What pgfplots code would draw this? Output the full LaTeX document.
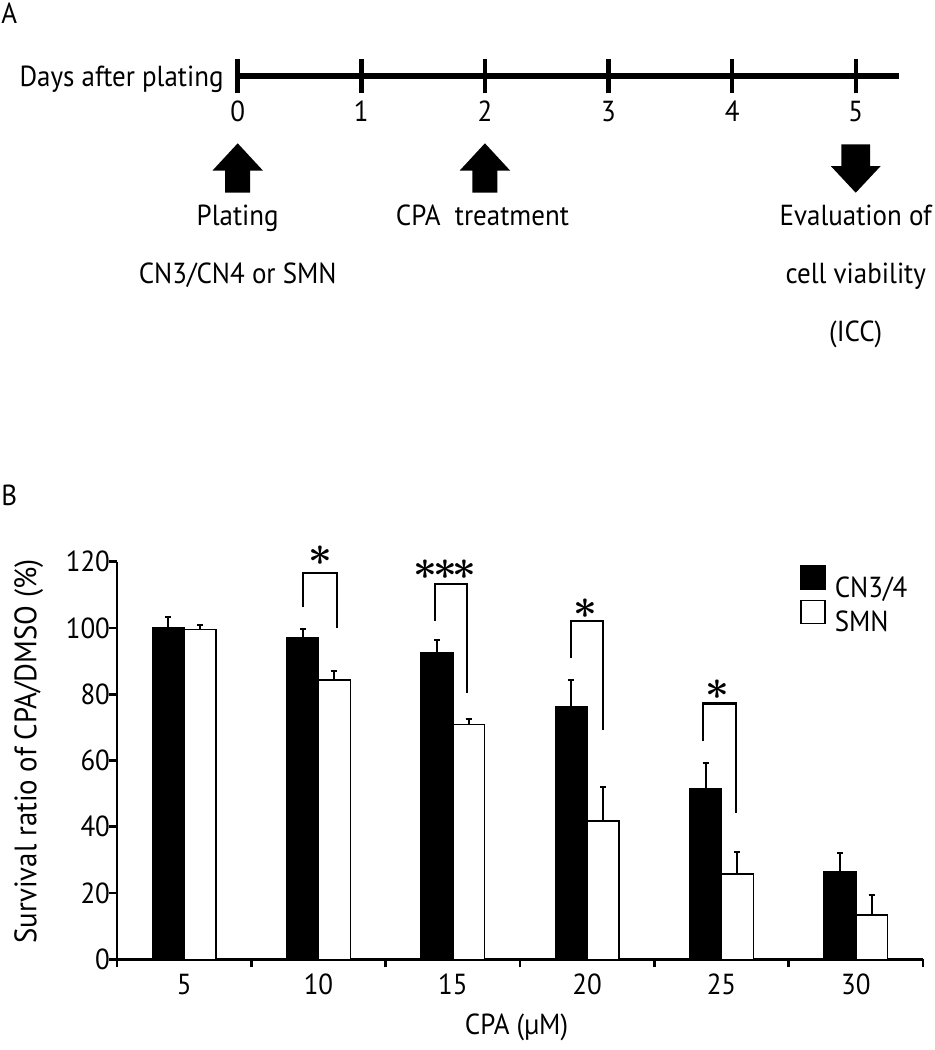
\documentclass[border=0pt]{standalone}
\usepackage{fontspec}
\setmainfont{PT Sans}[FakeStretch=0.93]
\usepackage{bm}
\usepackage{pgfplots}
\pgfplotsset{compat=1.18}

% survival ratio (%) and upper error, per CPA dose
% xa / xb: left (CN3/4) and right (SMN) bar centres
\pgfplotstableread{
xa     xb     cn     cnerr  smn   smnerr
-0.118 0.118  100.0  3.4    99.6  1.2
0.882  1.118  97.1   2.7    84.3  2.8
1.882  2.118  92.5   3.9    70.9  1.7
2.882  3.118  76.1   8.2    41.7  10.2
3.882  4.118  51.6   7.7    25.8  6.5
4.882  5.118  26.4   5.8    13.4  5.9
}\survival

\newcommand{\sig}[1]{\fontsize{22}{22}\selectfont$#1$}

\begin{document}
\begin{tikzpicture}[font=\fontsize{14.5}{17}\selectfont]
\useasboundingbox (0,0) rectangle (467pt,-525pt);

\node[anchor=base west, inner sep=0pt] at (0.5pt,-11.5pt) {A};
\node[anchor=base west, inner sep=0pt] at (0.5pt,-252.5pt) {B};
\node[anchor=base east, inner sep=0pt] at (112pt,-43pt) {Days after plating};

% panel A: timeline
\begin{axis}[
  at={(118.85pt,-38pt)}, anchor=south west,
  scale only axis, width=330.65pt, height=25pt,
  xmin=0, xmax=5.35, ymin=0, ymax=50,
  axis x line*=bottom, axis y line=none,
  x axis line style={line width=2.8pt},
  xtick={0,...,5}, xtick pos=left,
  tick align=center, major tick length=17.25pt,
  tick style={line width=2.2pt, black},
  xticklabel style={anchor=north, yshift=-0.5pt},
  /pgf/number format/assume math mode=true,
  clip=false,
]
\fill (axis cs:-0.101,-116.7) -- (axis cs:0.101,-116.7) -- (axis cs:0.101,-94.7)
  -- (axis cs:0.205,-94.7) -- (axis cs:0,-67.3) -- (axis cs:-0.205,-94.7)
  -- (axis cs:-0.101,-94.7) -- cycle;
\fill (axis cs:1.899,-116.7) -- (axis cs:2.101,-116.7) -- (axis cs:2.101,-94.7)
  -- (axis cs:2.205,-94.7) -- (axis cs:2,-67.3) -- (axis cs:1.795,-94.7)
  -- (axis cs:1.899,-94.7) -- cycle;
\fill (axis cs:4.883,-68.3) -- (axis cs:5.117,-68.3) -- (axis cs:5.117,-90)
  -- (axis cs:5.202,-90) -- (axis cs:5,-116.7) -- (axis cs:4.798,-90)
  -- (axis cs:4.883,-90) -- cycle;
\node[anchor=base] at (axis cs:0,-149.5) {Plating};
\node[anchor=base] at (axis cs:0,-207.5) {CN3/CN4 or SMN};
\node[anchor=base] at (axis cs:1.98,-149.5) {CPA\ \ treatment};
\node[anchor=base] at (axis cs:5,-149.5) {Evaluation of};
\node[anchor=base] at (axis cs:5,-207.5) {cell viability};
\node[anchor=base] at (axis cs:5,-265.7) {(ICC)};
\end{axis}

% panel B: bar chart
\begin{axis}[
  at={(58.5pt,-479.65pt)}, anchor=south west,
  scale only axis, width=403pt, height=198.8pt,
  xmin=-0.5, xmax=5.5, ymin=0, ymax=120,
  axis x line*=bottom, axis y line*=left,
  axis line style={line width=1.3pt},
  xtick={0,...,5}, xticklabels={5,10,15,20,25,30},
  minor xtick={-0.5,0.5,...,5.5},
  ytick={0,20,...,120}, minor ytick={0,20,...,120},
  major tick length=0pt, minor tick length=4pt,
  tick align=outside, xtick pos=left, ytick pos=left,
  tick style={line width=1.3pt, black},
  xticklabel style={yshift=-3.8pt},
  /pgf/number format/assume math mode=true,
  xlabel={CPA (µM)},
  xlabel style={at={(axis description cs:0.4957,-0.190)}, anchor=base},
  ylabel={Survival ratio of CPA/DMSO (\%)},
  ylabel style={at={(axis description cs:-0.0999,0.523)}, anchor=base,
    font=\fontsize{15.5}{17}\selectfont},
  legend style={at={(axis description cs:0.8474,0.9917)}, anchor=north west,
    draw=none, fill=none, inner sep=0pt, row sep=-1.5pt, column sep=3.5pt,
    nodes={inner sep=1pt}},
  legend cell align=left,
  legend image code/.code={\draw[#1, line width=0.7pt] (0pt,-0.3pt) rectangle (12pt,11.3pt);},
  clip=false,
]
\addplot[ybar, bar width=0.236, bar shift=0, fill=black, draw=black, line width=0.7pt,
  error bars/.cd, y dir=plus, y explicit,
  error bar style={line width=1.1pt},
  error mark options={rotate=90, mark size=1.5pt, line width=1.1pt}]
  table[x=xa, y=cn, y error=cnerr] {\survival};
\addplot[ybar, bar width=0.236, bar shift=0, fill=white, draw=black, line width=0.7pt,
  error bars/.cd, y dir=plus, y explicit,
  error bar style={line width=1.1pt},
  error mark options={rotate=90, mark size=1.5pt, line width=1.1pt}]
  table[x=xb, y=smn, y error=smnerr] {\survival};
\legend{CN3/4, SMN}

% significance brackets
\addplot[sharp plot, black, line width=1.1pt, forget plot]
  coordinates {(0.887,106.2) (0.887,116.6) (1.135,116.6) (1.135,99.9)};
\addplot[sharp plot, black, line width=1.1pt, forget plot]
  coordinates {(1.865,102.2) (1.865,113.2) (2.105,113.2) (2.105,80.5)};
\addplot[sharp plot, black, line width=1.1pt, forget plot]
  coordinates {(2.880,91.0) (2.880,102.1) (3.120,102.1) (3.120,69.2)};
\addplot[sharp plot, black, line width=1.1pt, forget plot]
  coordinates {(3.865,65.9) (3.865,77.2) (4.108,77.2) (4.108,44.1)};
\node at (axis cs:1.011,121.9) {\sig{\bm{\ast}}};
\node at (axis cs:1.942,117.6) {\sig{\bm{\ast}\!\!\bm{\ast}\!\!\bm{\ast}}};
\node at (axis cs:2.988,105.9) {\sig{\bm{\ast}}};
\node at (axis cs:3.972,81.3) {\sig{\bm{\ast}}};
\end{axis}
\end{tikzpicture}
\end{document}
